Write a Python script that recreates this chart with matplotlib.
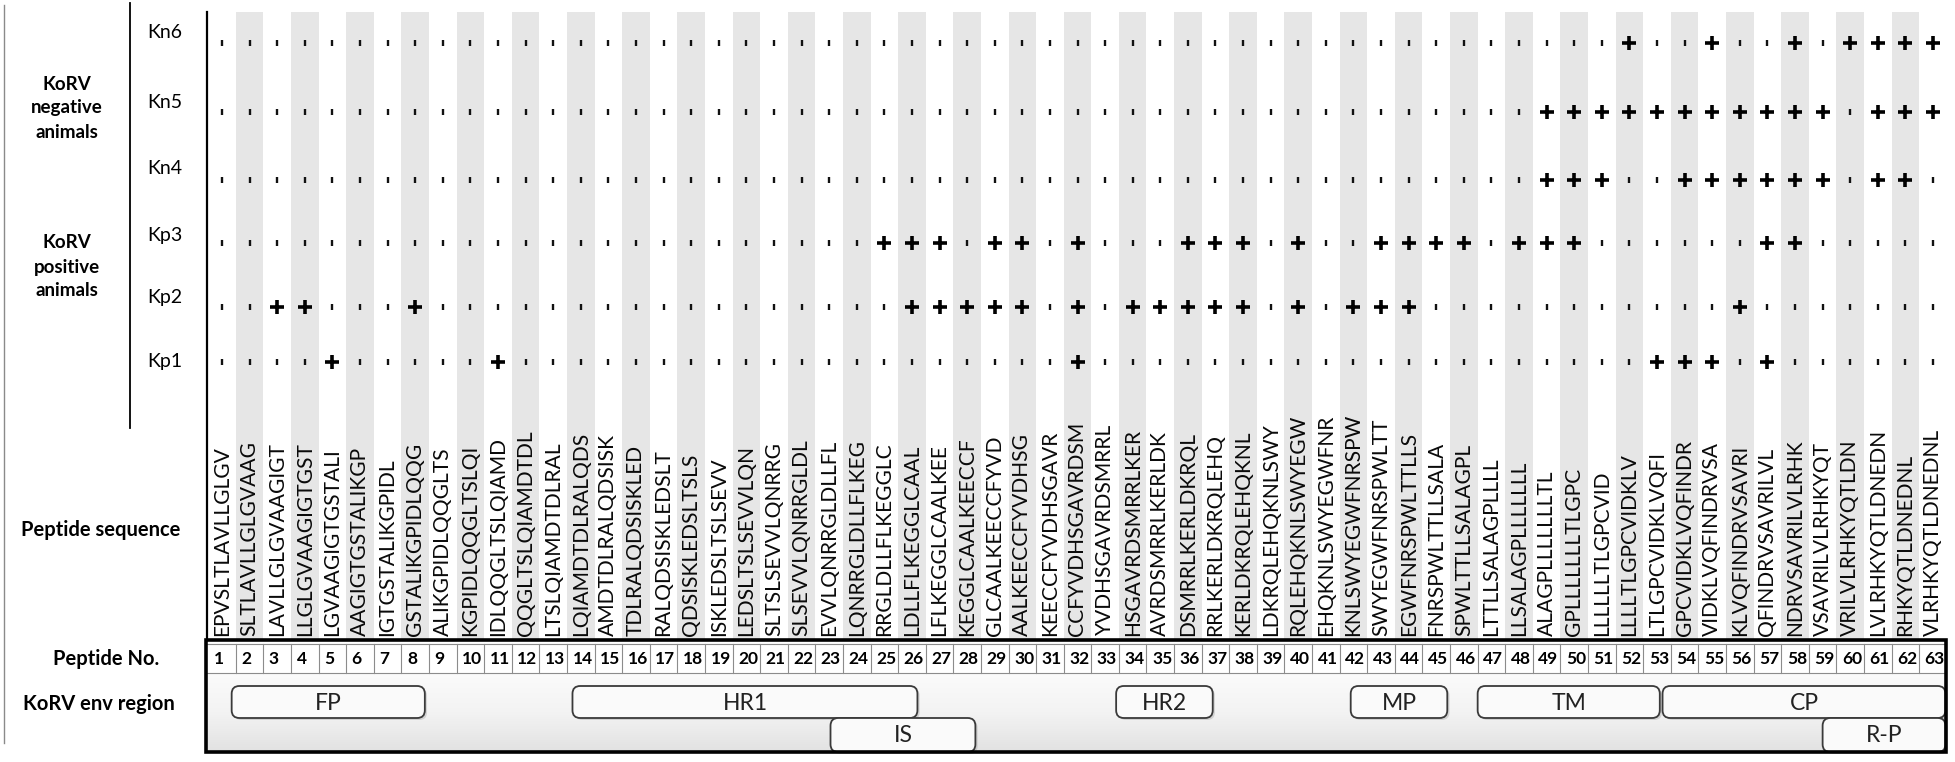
import numpy as np
import matplotlib
matplotlib.use("Agg")
import matplotlib.pyplot as plt
from matplotlib.patches import FancyBboxPatch, Rectangle
from matplotlib.colors import LinearSegmentedColormap

# ---------------- data ----------------
ANIMALS = ["Kn6", "Kn5", "Kn4", "Kp3", "Kp2", "Kp1"]
GROUP_LABELS = ["KoRV\nnegative\nanimals", "KoRV\npositive\nanimals"]
PEPTIDE_NO = list(range(1, 64))
SEQUENCES = [
    "EPVSLTLAVLLGLGV", "SLTLAVLLGLGVAAG", "LAVLLGLGVAAGIGT", "LLGLGVAAGIGTGST",
    "LGVAAGIGTGSTALI", "AAGIGTGSTALIKGP", "IGTGSTALIKGPIDL", "GSTALIKGPIDLQQG",
    "ALIKGPIDLQQGLTS", "KGPIDLQQGLTSLQI", "IDLQQGLTSLQIAMD", "QQGLTSLQIAMDTDL",
    "LTSLQIAMDTDLRAL", "LQIAMDTDLRALQDS", "AMDTDLRALQDSISK", "TDLRALQDSISKLED",
    "RALQDSISKLEDSLT", "QDSISKLEDSLTSLS", "ISKLEDSLTSLSEVV", "LEDSLTSLSEVVLQN",
    "SLTSLSEVVLQNRRG", "SLSEVVLQNRRGLDL", "EVVLQNRRGLDLLFL", "LQNRRGLDLLFLKEG",
    "RRGLDLLFLKEGGLC", "LDLLFLKEGGLCAAL", "LFLKEGGLCAALKEE", "KEGGLCAALKEECCF",
    "GLCAALKEECCFYVD", "AALKEECCFYVDHSG", "KEECCFYVDHSGAVR", "CCFYVDHSGAVRDSM",
    "YVDHSGAVRDSMRRL", "HSGAVRDSMRRLKER", "AVRDSMRRLKERLDK", "DSMRRLKERLDKRQL",
    "RRLKERLDKRQLEHQ", "KERLDKRQLEHQKNL", "LDKRQLEHQKNLSWY", "RQLEHQKNLSWYEGW",
    "EHQKNLSWYEGWFNR", "KNLSWYEGWFNRSPW", "SWYEGWFNRSPWLTT", "EGWFNRSPWLTTLLS",
    "FNRSPWLTTLLSALA", "SPWLTTLLSALAGPL", "LTTLLSALAGPLLLL", "LLSALAGPLLLLLLL",
    "ALAGPLLLLLLLTL", "GPLLLLLLLTLGPC", "LLLLLLTLGPCVID", "LLLLTLGPCVIDKLV",
    "LTLGPCVIDKLVQFI", "GPCVIDKLVQFINDR", "VIDKLVQFINDRVSA", "KLVQFINDRVSAVRI",
    "QFINDRVSAVRILVL", "NDRVSAVRILVLRHK", "VSAVRILVLRHKYQT", "VRILVLRHKYQTLDN",
    "LVLRHKYQTLDNEDN", "RHKYQTLDNEDNL", "VLRHKYQTLDNEDNL",
]
# peptides scored "+" for each animal (all others scored ')
POSITIVE = {
    "Kn6": [52, 55, 58, 60, 61, 62, 63],
    "Kn5": [49, 50, 51, 52, 53, 54, 55, 56, 57, 58, 59, 61, 62, 63],
    "Kn4": [49, 50, 51, 54, 55, 56, 57, 58, 59, 61, 62],
    "Kp3": [25, 26, 27, 29, 30, 32, 36, 37, 38, 40, 43, 44, 45, 46, 48, 49, 50, 57, 58],
    "Kp2": [3, 4, 8, 26, 27, 28, 29, 30, 32, 34, 35, 36, 37, 38, 40, 42, 43, 44, 56],
    "Kp1": [5, 11, 32, 53, 54, 55, 57],
}
REGIONS = ["FP", "HR1", "IS", "HR2", "MP", "TM", "CP", "R-P"]
REGION_START = [1.35, 13.7, 23.05, 33.4, 41.9, 46.5, 53.2, 59.0]
REGION_END = [8.35, 26.2, 28.3, 36.9, 45.4, 53.1, 63.45, 63.45]
REGION_TIER = [0, 0, 1, 0, 0, 0, 0, 1]

# ---------------- layout (pixels) ----------------
W, H = 1955, 762
COL1_PX, COLN_PX = 222, 1933
ROW_Y = [43, 112, 180, 243, 307, 362]
LABEL_Y = [33, 102, 168, 235, 297, 362]
PLOT_TOP = 12
TABLE_TOP, NUM_TOP, NUM_BOT, TABLE_BOT = 640, 644, 673, 752
TABLE_L, TABLE_R = 206, 1946
TIER_Y = [(686, 718), (718, 752)]
FONT = ["Lato", "DejaVu Sans"]

fig = plt.figure(figsize=(W / 100, H / 100), dpi=100)
ax = fig.add_axes([0, 0, 1, 1])
s = (COLN_PX - COL1_PX) / (len(PEPTIDE_NO) - 1)


def px(x):
    return 1 + (x - COL1_PX) / s


# stripes
even = [c for c in PEPTIDE_NO if c % 2 == 0]
ax.bar(even, TABLE_TOP - PLOT_TOP, bottom=PLOT_TOP, width=1.0,
       color="#e6e6e6", zorder=0, linewidth=0)

# marks
for i, name in enumerate(ANIMALS):
    pos = set(POSITIVE[name])
    xp = [c for c in PEPTIDE_NO if c in pos]
    xt = [c for c in PEPTIDE_NO if c not in pos]
    ax.scatter(xp, [ROW_Y[i]] * len(xp), marker="+", s=9.5 ** 2,
               linewidths=2.6, color="black", zorder=3)
    ax.scatter(xt, [ROW_Y[i]] * len(xt), marker="|", s=4.5 ** 2,
               linewidths=1.7, color="#111111", zorder=3)
    ax.text(px(147), LABEL_Y[i], name, ha="left", va="center",
            fontsize=14, family=FONT)

# group labels
ax.text(px(67), 108, GROUP_LABELS[0], ha="center", va="center", fontsize=13.5,
        fontweight="bold", family=FONT, linespacing=1.5)
ax.text(px(67), 267, GROUP_LABELS[1], ha="center", va="center", fontsize=13.5,
        fontweight="bold", family=FONT, linespacing=1.5)

# structural lines
ax.plot([px(4)] * 2, [5, 743], color="#8a8a8a", lw=1.0)
ax.plot([px(130)] * 2, [3, 428], color="black", lw=1.3)
ax.plot([px(206.5)] * 2, [PLOT_TOP, TABLE_TOP], color="black", lw=1.6)

# sequence labels: calibrate size so a 15-mer spans ~188 px
fig.canvas.draw()
r = fig.canvas.get_renderer()
t = ax.text(0, 0, SEQUENCES[0], fontsize=10, family=FONT)
wpx = t.get_window_extent(r).width
t.remove()
seq_fs = 10 * 188 / wpx
for c, seq in zip(PEPTIDE_NO, SEQUENCES):
    ax.text(c, 636, seq, rotation=90, rotation_mode="anchor", ha="left",
            va="center", fontsize=seq_fs, family=FONT, color="#0a0a0a", zorder=2)

ax.text(px(101), 530, "Peptide sequence", ha="center", va="center",
        fontsize=14.5, fontweight="bold", family=FONT)
ax.text(px(106), 659, "Peptide No.", ha="center", va="center",
        fontsize=14.5, fontweight="bold", family=FONT)
ax.text(px(99), 704, "KoRV env region", ha="center", va="center",
        fontsize=14.5, fontweight="bold", family=FONT)

# table
x0, x1 = px(TABLE_L), px(TABLE_R)
ax.add_patch(Rectangle((x0, TABLE_TOP), x1 - x0, TABLE_BOT - TABLE_TOP,
                       facecolor="white", edgecolor="none", zorder=1))
grad = LinearSegmentedColormap.from_list("g", ["#fbfbfb", "#f3f3f3", "#e2e2e2"])
ax.imshow(np.linspace(0, 1, 64).reshape(-1, 1), extent=(x0, x1, TABLE_BOT, NUM_BOT),
          origin="upper", cmap=grad, aspect="auto", zorder=1.2)
for c in PEPTIDE_NO[:-1]:
    ax.plot([c + 0.5] * 2, [NUM_TOP, NUM_BOT], color="#8c8c8c", lw=0.8, zorder=2)
ax.plot([x0, x1], [NUM_TOP] * 2, color="#8c8c8c", lw=0.8, zorder=2)
ax.plot([x0, x1], [NUM_BOT] * 2, color="#8c8c8c", lw=0.8, zorder=2)
for c in PEPTIDE_NO:
    ax.text(c - 0.3, (NUM_TOP + NUM_BOT) / 2 + 1, str(c), ha="left", va="center",
            fontsize=12.5, fontweight="bold", family=FONT, zorder=3)

# regions
for name, a, b, tier in zip(REGIONS, REGION_START, REGION_END, REGION_TIER):
    ytop, ybot = TIER_Y[tier]
    sh = FancyBboxPatch((a + 0.08, ytop + 2), b - a, ybot - ytop,
                        boxstyle="round,pad=0,rounding_size=0.28", mutation_aspect=s,
                        facecolor="#9a9a9a", edgecolor="none", alpha=0.35, zorder=2.5)
    ax.add_patch(sh)
    bx = FancyBboxPatch((a, ytop), b - a, ybot - ytop,
                        boxstyle="round,pad=0,rounding_size=0.28", mutation_aspect=s,
                        facecolor="#fafafa", edgecolor="#3a3a3a", lw=1.3, zorder=3)
    ax.add_patch(bx)
    ax.text((a + b) / 2, (ytop + ybot) / 2 + 1, name, ha="center", va="center",
            fontsize=16.5, family=FONT, color="#222222", zorder=4)

ax.add_patch(Rectangle((x0, TABLE_TOP), x1 - x0, TABLE_BOT - TABLE_TOP,
                       facecolor="none", edgecolor="black", lw=2.6, zorder=5))

ax.set_xlim(px(0), px(W))
ax.set_ylim(H, 0)
ax.axis("off")
fig.savefig("out.png", dpi=100)
